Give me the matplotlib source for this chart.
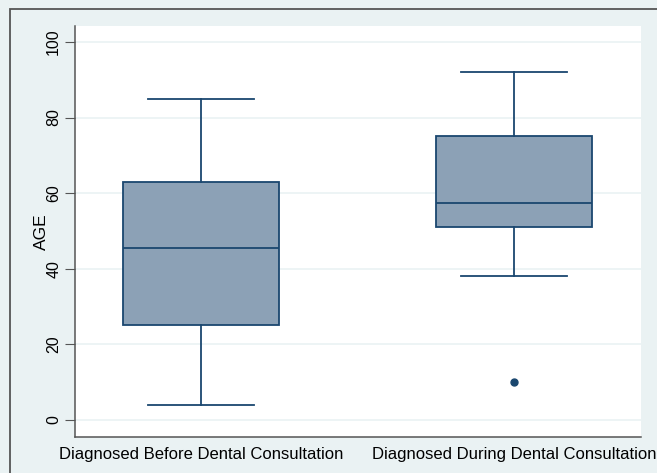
import matplotlib.pyplot as plt
from matplotlib.patches import Rectangle

plt.rcParams['font.family'] = ['Liberation Sans', 'DejaVu Sans']

groups = ['Diagnosed Before Dental Consultation', 'Diagnosed During Dental Consultation']
# five-number summaries read as (whisker low, q1, median, q3, whisker high)
whislo = [4, 38]
q1 = [25, 51]
med = [45.5, 57.5]
q3 = [63, 75]
whishi = [85, 92]
fliers = [[], [10]]
yticks = [0, 20, 40, 60, 80, 100]

navy = '#1a476f'
fill = '#8ca1b6'
bg = '#eaf2f3'

stats = []
for i, name in enumerate(groups):
    stats.append(dict(label=name, whislo=whislo[i], q1=q1[i], med=med[i],
                      q3=q3[i], whishi=whishi[i], fliers=fliers[i]))

fig = plt.figure(figsize=(6.57, 4.73), dpi=100)
fig.patch.set_facecolor(bg)
ax = fig.add_axes([0.1142, 0.0761, 0.8614, 0.8689])
ax.set_facecolor('white')

ax.bxp(stats, positions=[1, 2], widths=0.50, patch_artist=True,
       boxprops=dict(facecolor=fill, edgecolor=navy, linewidth=1.3),
       medianprops=dict(color=navy, linewidth=1.3),
       whiskerprops=dict(color=navy, linewidth=1.3),
       capprops=dict(color=navy, linewidth=1.3),
       capwidths=0.34,
       flierprops=dict(marker='o', markerfacecolor=navy, markeredgecolor=navy,
                       markersize=5))

ax.set_xlim(0.597, 2.406)
ax.set_ylim(-4.5, 104.2)
ax.set_yticks(yticks)
ax.set_yticklabels([str(t) for t in yticks], rotation=90, va='center', fontsize=11.5)
ax.set_ylabel('AGE', fontsize=12.5, labelpad=-2)
ax.yaxis.grid(True, color=bg, linewidth=1.2)
ax.set_axisbelow(True)
ax.tick_params(axis='y', length=7, color='#555555', pad=3)
ax.tick_params(axis='x', length=0, labelsize=12, pad=7)

for side in ['top', 'right']:
    ax.spines[side].set_visible(False)
for side in ['left', 'bottom']:
    ax.spines[side].set_color('#555555')
    ax.spines[side].set_linewidth(1.1)

# outer frame around the graph region
fig.add_artist(Rectangle((10 / 657, -0.01), 1.0, 1 - 9 / 473 + 0.01,
                         transform=fig.transFigure, fill=False,
                         edgecolor='#555555', linewidth=1.3))

fig.savefig('out.png', dpi=100, facecolor=fig.get_facecolor())
